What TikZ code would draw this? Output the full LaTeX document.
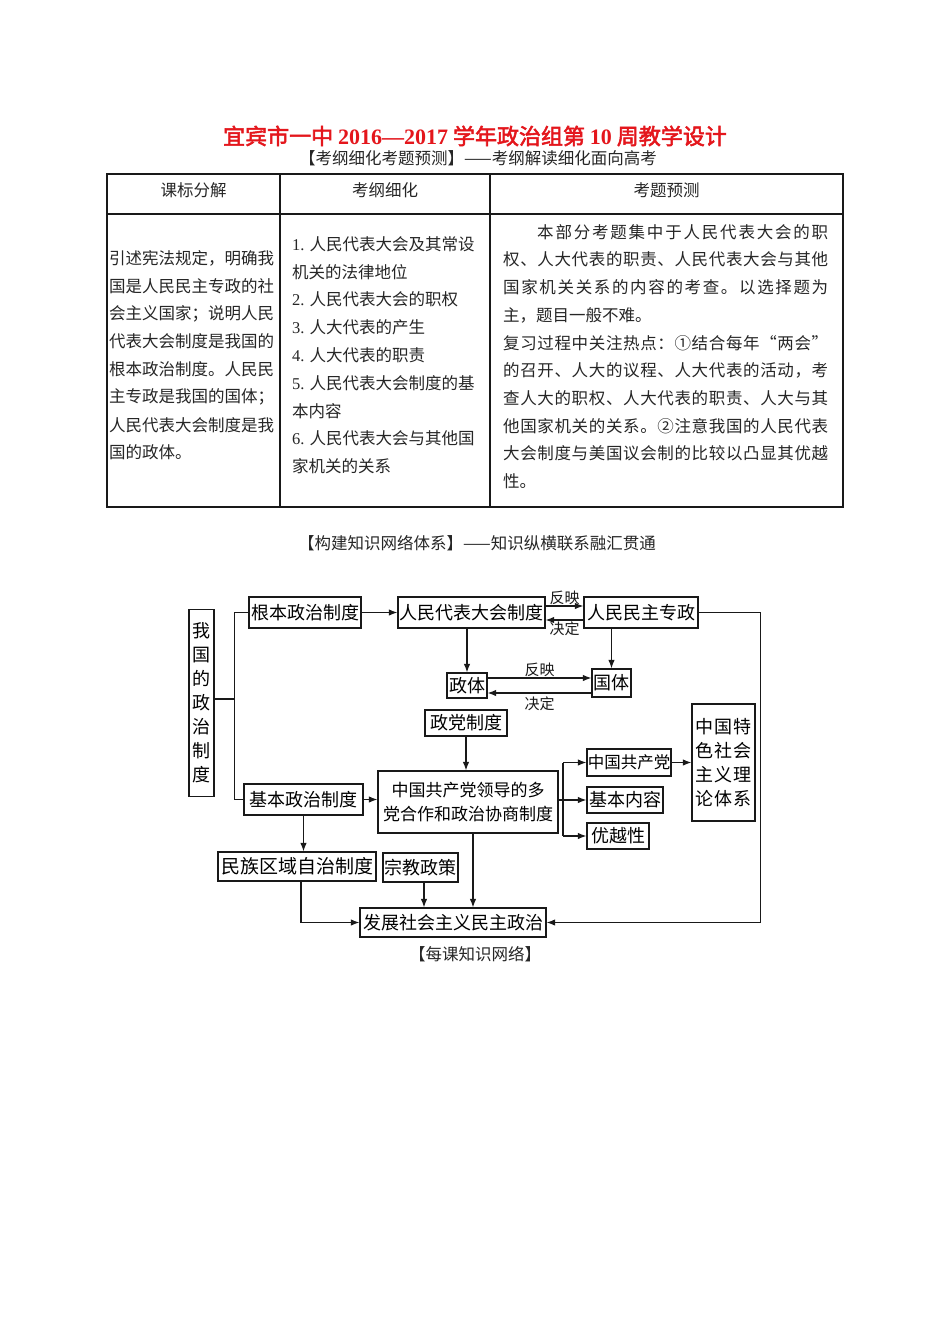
\documentclass[tikz,border=0pt]{standalone}
\usepackage{fontspec}
\setmainfont{Noto Sans CJK SC}[AutoFakeBold=2.5]
\newfontfamily\lat{Liberation Serif}
\usetikzlibrary{arrows.meta,calc}
\newcommand\myfs[1]{\fontsize{#1}{#1}\selectfont}
\def\jst#1{\jstA#1\jstend}
\def\jstA#1#2\jstend{#1\ifx\relax#2\relax\else\hfill\jstA#2\jstend\fi}
\definecolor{titlered}{RGB}{228,22,28}
\begin{document}
\begin{tikzpicture}[x=1pt,y=-1pt,
  tline/.style={line width=1.6pt, draw=black!90},
  tx/.style={anchor=west, inner sep=0pt, font=\myfs{16.5}, text=black!85},
  hd/.style={inner sep=0pt, font=\myfs{16.5}, text=black!85},
  box/.style={draw=black!90, line width=1.3pt, inner sep=0pt, font=\myfs{18}},
  arr/.style={line width=1.1pt, draw=black!90, -{Latex[length=8.5pt,width=6.5pt]}},
  ln/.style={line width=1.1pt, draw=black!90},
  lab/.style={font=\myfs{15}, inner sep=1pt, text=black!90}]
\useasboundingbox (0,0) rectangle (950,1344);
\fill[white] (0,0) rectangle (950,1344);

% title
\node[inner sep=0pt, text=titlered, font=\myfs{22}\bfseries] (title) at (475,136)
  {宜宾市一中 {\lat\bfseries 2016—2017} 学年政治组第 {\lat\bfseries 10} 周教学设计};
\node[hd] (sub) at (478,158) {【考纲细化考题预测】——考纲解读细化面向高考};

% table
\draw[tline] (107,174) rectangle (843,507);
\draw[tline] (107,214) -- (843,214);
\draw[tline] (280,174) -- (280,507);
\draw[tline] (490,174) -- (490,507);
\node[hd] (h1) at (193.5,190) {课标分解};
\node[hd] (h2) at (385,190) {考纲细化};
\node[hd] (h3) at (666.5,190) {考题预测};

\foreach \t [count=\i from 0] in {{引述宪法规定，明确我},{国是人民民主专政的社},{会主义国家；说明人民},{代表大会制度是我国的},{根本政治制度。人民民},{主专政是我国的国体；},{人民代表大会制度是我},{国的政体。}}
  \node[tx] (ca\i) at (109,{258+27.8*\i}) {\t};

\foreach \t [count=\i from 0] in {{{\lat 1.} 人民代表大会及其常设},{机关的法律地位},{{\lat 2.} 人民代表大会的职权},{{\lat 3.} 人大代表的产生},{{\lat 4.} 人大代表的职责},{{\lat 5.} 人民代表大会制度的基},{本内容},{{\lat 6.} 人民代表大会与其他国},{家机关的关系}}
  \node[tx] (cb\i) at (292,{244+27.8*\i}) {\t};

\node[tx] (cc0) at (537,232) {\hbox to 291pt{\jst{本部分考题集中于人民代表大会的职}}};
\node[tx] (cc1) at (503,259.7) {\hbox to 325pt{\jst{权、人大代表的职责、人民代表大会与其他}}};
\node[tx] (cc2) at (503,287.4) {\hbox to 325pt{\jst{国家机关关系的内容的考查。以选择题为}}};
\node[tx] (cc3) at (503,315.1) {主，题目一般不难。};
\node[tx] (cc4) at (503,342.8) {\hbox to 325pt{\jst{复习过程中关注热点：①结合每年“两会”}}};
\node[tx] (cc5) at (503,370.5) {\hbox to 325pt{\jst{的召开、人大的议程、人大代表的活动，考}}};
\node[tx] (cc6) at (503,398.2) {\hbox to 325pt{\jst{查人大的职权、人大代表的职责、人大与其}}};
\node[tx] (cc7) at (503,425.9) {\hbox to 325pt{\jst{他国家机关的关系。②注意我国的人民代表}}};
\node[tx] (cc8) at (503,453.6) {\hbox to 325pt{\jst{大会制度与美国议会制的比较以凸显其优越}}};
\node[tx] (cc9) at (503,481.3) {性。};

% section heading
\node[hd] (sec) at (477,543) {【构建知识网络体系】——知识纵横联系融汇贯通};

% diagram boxes
\node[box, minimum width=25pt, minimum height=187pt, align=center, font={\fontsize{18}{24}\selectfont}] (wg) at (201.5,703)
  {我\\国\\的\\政\\治\\制\\度};
\node[box, minimum width=112pt, minimum height=31pt] (gb) at (305,612.5) {根本政治制度};
\node[box, minimum width=147pt, minimum height=31pt] (rd) at (471.5,612.5) {人民代表大会制度};
\node[box, minimum width=114pt, minimum height=31pt] (rm) at (641,612.5) {人民民主专政};
\node[box, minimum width=40pt, minimum height=25pt] (zt) at (467,685.5) {政体};
\node[box, minimum width=39pt, minimum height=28pt] (gt) at (611.5,683) {国体};
\node[box, minimum width=82pt, minimum height=26pt] (zd) at (466,723) {政党制度};
\node[box, minimum width=180pt, minimum height=62pt, align=center, font={\fontsize{17}{24}\selectfont}] (dd) at (468,802)
  {中国共产党领导的多\\党合作和政治协商制度};
\node[box, minimum width=84pt, minimum height=27pt, font=\myfs{16.5}] (gc) at (629,762.5) {中国共产党};
\node[box, minimum width=76pt, minimum height=26pt] (jn) at (625,800) {基本内容};
\node[box, minimum width=62pt, minimum height=26pt] (yy) at (618,836) {优越性};
\node[box, minimum width=63pt, minimum height=117pt, align=center, font={\fontsize{18}{24}\selectfont}] (zg) at (723.5,762.5)
  {\hbox to 57pt{中\hfill 国\hfill 特}\\\hbox to 57pt{色\hfill 社\hfill 会}\\\hbox to 57pt{主\hfill 义\hfill 理}\\\hbox to 57pt{论\hfill 体\hfill 系}};
\node[box, minimum width=119pt, minimum height=31pt] (jb) at (303.5,799.5) {基本政治制度};
\node[box, minimum width=158pt, minimum height=29pt, font=\myfs{19}] (mz) at (297,866.5) {民族区域自治制度};
\node[box, minimum width=75pt, minimum height=29pt] (zj) at (420.5,867.5) {宗教政策};
\node[box, minimum width=186pt, minimum height=29pt] (fz) at (453,922.5) {发展社会主义民主政治};

% bracket
\draw[ln] ([yshift=4pt]wg.east) -- ++(20,0);
\draw[ln] (gb.west) -| ($(wg.east)+(20,0)$) |- (jb.west);

% connectors
\draw[arr] (gb.east) -- (rd.west);
\draw[arr] ([yshift=6.5pt]rd.east) -- node[lab, above] (l1) {反映} ([yshift=6.5pt]rm.west);
\draw[arr] ([yshift=-7.5pt]rm.west) -- node[lab, below] (l2) {决定} ([yshift=-7.5pt]rd.east);
\draw[arr] (zt.north |- rd.south) -- (zt.north);
\draw[arr] (gt.north |- rm.south) -- (gt.north);
\draw[arr] (zt.east |- 0,678) -- node[lab, above] (l3) {反映} (gt.west |- 0,678);
\draw[arr] (gt.west |- 0,693) -- node[lab, below, yshift=-2pt] (l4) {决定} (zt.east |- 0,693);
\draw[arr] (zd.south) -- (zd.south |- dd.north);
\draw[arr] (jb.east) -- (jb.east -| dd.west);
\coordinate (br) at (563,800);
\draw[ln] (dd.east |- jn.west) -- (br |- jn.west);
\draw[ln] (br |- gc.west) -- (br |- yy.west);
\draw[arr] (br |- gc.west) -- (gc.west);
\draw[arr] (br |- jn.west) -- (jn.west);
\draw[arr] (br |- yy.west) -- (yy.west);
\draw[arr] (gc.east) -- (gc.east -| zg.west);
\draw[arr] (rm.east) -- ++(62,0) |- (fz.east);
\draw[arr] (jb.south) -- (jb.south |- mz.north);
\draw[arr] ([xshift=4pt]mz.south) |- (fz.west);
\draw[arr] ([xshift=3.5pt]zj.south) -- ([xshift=3.5pt]zj.south |- fz.north);
\draw[arr] ([xshift=5pt]dd.south) -- ([xshift=5pt]dd.south |- fz.north);

\node[hd] (cap) at (475,954) {【每课知识网络】};
\end{tikzpicture}
\end{document}
